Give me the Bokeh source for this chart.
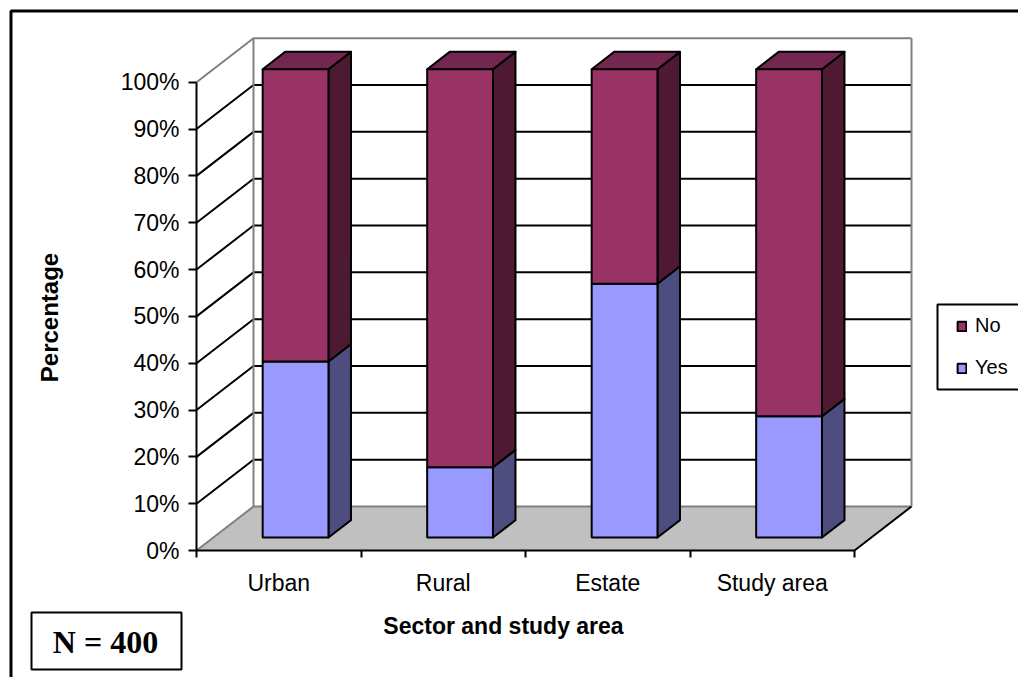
from bokeh.embed import file_html
from bokeh.models import BoxAnnotation, FixedTicker, Label, Legend, LegendItem
from bokeh.plotting import figure
from bokeh.resources import INLINE

# Survey shares per sector, percent of respondents
categories = ["Urban", "Rural", "Estate", "Study area"]
yes_values = [37.6, 15.0, 54.2, 25.9]
no_values = [62.4, 85.0, 45.8, 74.1]
percent_ticks = [0, 10, 20, 30, 40, 50, 60, 70, 80, 90, 100]

# Canvas layout, pixels
WIDTH, HEIGHT = 1018, 677
ORIGIN_X, ORIGIN_Y = 196, 550
PX_PER_CAT = 164.5
PX_PER_PCT = 4.683

# Oblique projection of the chart box: depth 1 is the back wall
DEPTH_X = 57 / PX_PER_CAT
DEPTH_Y = 44 / PX_PER_PCT
BAR_WIDTH = 0.40
BAR_NEAR, BAR_FAR = 0.295, 0.69

COL_NO, COL_NO_SIDE, COL_NO_TOP = "#993366", "#4D1933", "#732650"
COL_YES, COL_YES_SIDE = "#9999FF", "#4D4D80"
COL_FLOOR, COL_WALL = "#C0C0C0", "#808080"
FONT = "Liberation Sans"


def px_x(px):
    return (px - ORIGIN_X) / PX_PER_CAT


def px_y(py):
    return (ORIGIN_Y - py) / PX_PER_PCT


def proj(x, y, depth):
    return x + depth * DEPTH_X, y + depth * DEPTH_Y


# The frame fills the canvas; the axes sit at fixed data positions inside it
p = figure(
    width=WIDTH, height=HEIGHT, output_backend="svg", toolbar_location=None,
    x_range=(px_x(0), px_x(WIDTH)), y_range=(px_y(HEIGHT), px_y(0)),
    min_border=0, background_fill_color="white", border_fill_color="white",
)
p.outline_line_color = None
p.grid.visible = False

# Floor
n_cat = len(categories)
corners = [proj(0, 0, 0), proj(n_cat, 0, 0), proj(n_cat, 0, 1), proj(0, 0, 1)]
p.patch([c[0] for c in corners], [c[1] for c in corners], fill_color=COL_FLOOR, line_color=None)

# Gridlines along the side wall and the back wall
for v in percent_ticks:
    x0, y0 = proj(0, v, 0)
    x1, y1 = proj(0, v, 1)
    x2, y2 = proj(n_cat, v, 1)
    color = COL_WALL if v in (0, 100) else "black"
    p.line([x0, x1, x2], [y0, y1, y2], line_color=color, line_width=2)

# Vertical edges of the walls and the right floor edge
for x in (0, n_cat):
    xa, ya = proj(x, 0, 1)
    xb, yb = proj(x, 100, 1)
    p.line([xa, xb], [ya, yb], line_color=COL_WALL, line_width=2)
xa, ya = proj(n_cat, 0, 0)
xb, yb = proj(n_cat, 0, 1)
p.line([xa, xb], [ya, yb], line_color="black", line_width=2)

# Stacked bars: side faces and tops first, then the front faces
lefts, rights, bottoms_yes, tops_yes, bottoms_no, tops_no = [], [], [], [], [], []
for i, (yes, no) in enumerate(zip(yes_values, no_values)):
    cx = i + 0.5
    x_l, x_r = cx - BAR_WIDTH / 2, cx + BAR_WIDTH / 2
    near_dx, near_dy = proj(0, 0, BAR_NEAR)
    far_dx, far_dy = proj(0, 0, BAR_FAR)
    total = yes + no
    p.patch(
        [x_r + near_dx, x_r + far_dx, x_r + far_dx, x_r + near_dx],
        [near_dy, far_dy, yes + far_dy, yes + near_dy],
        fill_color=COL_YES_SIDE, line_color="black", line_width=2, line_join="round",
    )
    p.patch(
        [x_r + near_dx, x_r + far_dx, x_r + far_dx, x_r + near_dx],
        [yes + near_dy, yes + far_dy, total + far_dy, total + near_dy],
        fill_color=COL_NO_SIDE, line_color="black", line_width=2, line_join="round",
    )
    p.patch(
        [x_l + near_dx, x_r + near_dx, x_r + far_dx, x_l + far_dx],
        [total + near_dy, total + near_dy, total + far_dy, total + far_dy],
        fill_color=COL_NO_TOP, line_color="black", line_width=2, line_join="round",
    )
    lefts.append(x_l + near_dx)
    rights.append(x_r + near_dx)
    bottoms_yes.append(near_dy)
    tops_yes.append(yes + near_dy)
    bottoms_no.append(yes + near_dy)
    tops_no.append(total + near_dy)

yes_faces = p.quad(left=lefts, right=rights, bottom=bottoms_yes, top=tops_yes,
                   fill_color=COL_YES, line_color="black", line_width=2)
no_faces = p.quad(left=lefts, right=rights, bottom=bottoms_no, top=tops_no,
                  fill_color=COL_NO, line_color="black", line_width=2)

# Axes
xaxis = p.xaxis[0]
xaxis.fixed_location = 0
xaxis.bounds = (0, n_cat)
xaxis.ticker = FixedTicker(ticks=[i + 0.5 for i in range(n_cat)], minor_ticks=list(range(n_cat + 1)))
xaxis.major_label_overrides = {i + 0.5: c for i, c in enumerate(categories)}
xaxis.major_tick_out = 0
xaxis.major_tick_in = 0
xaxis.minor_tick_out = 7
xaxis.minor_tick_in = 0
xaxis.minor_tick_line_width = 2
xaxis.minor_tick_line_color = "black"
xaxis.axis_line_color = "black"
xaxis.axis_line_width = 2
xaxis.major_label_standoff = 12
xaxis.major_label_text_font = FONT
xaxis.major_label_text_font_size = "23px"
xaxis.major_label_text_color = "black"

yaxis = p.yaxis[0]
yaxis.fixed_location = 0
yaxis.bounds = (0, 100)
yaxis.ticker = FixedTicker(ticks=percent_ticks)
yaxis.major_label_overrides = {v: f"{v}%" for v in percent_ticks}
yaxis.major_tick_out = 8
yaxis.major_tick_in = 0
yaxis.major_tick_line_width = 2
yaxis.major_tick_line_color = "black"
yaxis.minor_tick_line_color = None
yaxis.axis_line_color = "black"
yaxis.axis_line_width = 2
yaxis.major_label_standoff = 9
yaxis.major_label_text_font = FONT
yaxis.major_label_text_font_size = "23px"
yaxis.major_label_text_color = "black"


def add_box(left, right, top, bottom, width):
    p.add_layout(BoxAnnotation(
        left=px_x(left), right=px_x(right), top=px_y(top), bottom=px_y(bottom),
        fill_alpha=0.0, line_color="black", line_alpha=1.0, line_width=width,
    ))


# Page border runs off the right and bottom of the canvas
add_box(10.5, WIDTH + 20, 10.5, HEIGHT + 20, 3)
# Legend frame and sample box
add_box(937, WIDTH + 20, 304, 389, 2)
add_box(31, 181, 612, 669, 2)

p.add_layout(Label(
    x=px_x(105), y=px_y(641), text="N = 400", text_font="Liberation Serif", text_font_style="bold",
    text_font_size="32px", text_align="center", text_baseline="middle", text_color="black",
))
p.add_layout(Label(
    x=px_x(503), y=px_y(625), text="Sector and study area", text_font=FONT, text_font_style="bold",
    text_font_size="23px", text_align="center", text_baseline="middle", text_color="black",
))
p.add_layout(Label(
    x=px_x(49), y=px_y(317), text="Percentage", text_font=FONT, text_font_style="bold",
    text_font_size="24px", text_align="center", text_baseline="middle", text_color="black",
    angle=90, angle_units="deg",
))

legend = Legend(
    items=[LegendItem(label="No", renderers=[no_faces]), LegendItem(label="Yes", renderers=[yes_faces])],
    location=(956, HEIGHT - 379),
    padding=0, margin=0, spacing=19,
    glyph_width=11, glyph_height=12, label_standoff=8, label_height=20,
    label_text_font=FONT, label_text_font_size="20px", label_text_color="black",
    border_line_color=None, background_fill_alpha=0.0,
)
p.add_layout(legend)

open("out.html", "w").write(file_html(p, INLINE))
